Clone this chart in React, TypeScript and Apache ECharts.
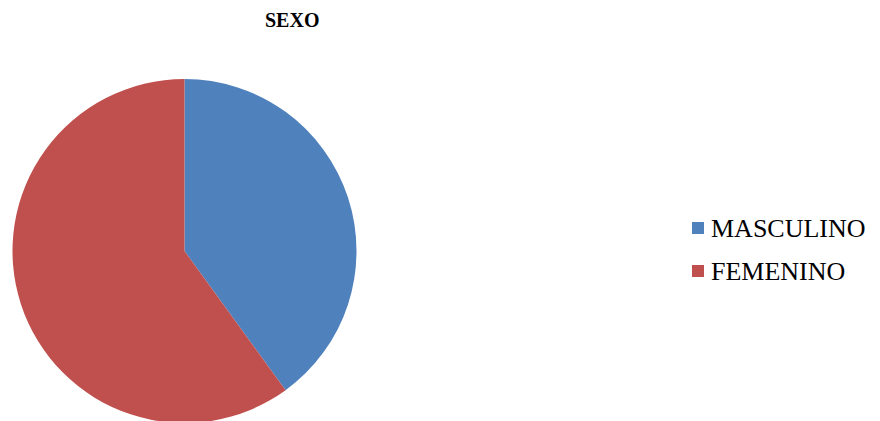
import React, { useEffect, useRef } from "react";
import * as echarts from "echarts";

const categories = ["MASCULINO", "FEMENINO"];
const values = [40, 60];
const colors = ["#4F81BD", "#C0504D"];

const SERIF = "Liberation Serif";

export default function App() {
  const ref = useRef<HTMLDivElement>(null);
  useEffect(() => {
    document.body.style.margin = "0";
    const chart = echarts.init(ref.current!, null, { renderer: "svg" });
    chart.setOption({
      animation: false,
      backgroundColor: "#ffffff",
      textStyle: { fontFamily: SERIF },
      graphic: [
        {
          type: "text",
          left: 265,
          top: 10,
          style: {
            text: "SEXO",
            fontFamily: SERIF,
            fontWeight: "bold",
            fontSize: 20,
            fill: "#000000",
          },
        },
      ],
      legend: {
        orient: "vertical",
        left: 692,
        top: 215,
        padding: 0,
        icon: "rect",
        itemWidth: 12,
        itemHeight: 12,
        itemGap: 17,
        data: categories,
        textStyle: {
          fontFamily: SERIF,
          fontSize: 26,
          color: "#000000",
          lineHeight: 26,
          padding: [0, 0, 0, 2],
        },
      },
      series: [
        {
          type: "pie",
          center: [184.5, 251],
          radius: 172,
          startAngle: 90,
          clockwise: true,
          label: { show: false },
          labelLine: { show: false },
          emphasis: { disabled: true },
          data: categories.map((c, i) => ({
            name: c,
            value: values[i],
            itemStyle: { color: colors[i] },
          })),
        },
      ],
    });
    return () => chart.dispose();
  }, []);
  return (
    <div
      ref={ref}
      style={{ position: "absolute", left: 0, top: 0, width: 880, height: 421 }}
    />
  );
}
